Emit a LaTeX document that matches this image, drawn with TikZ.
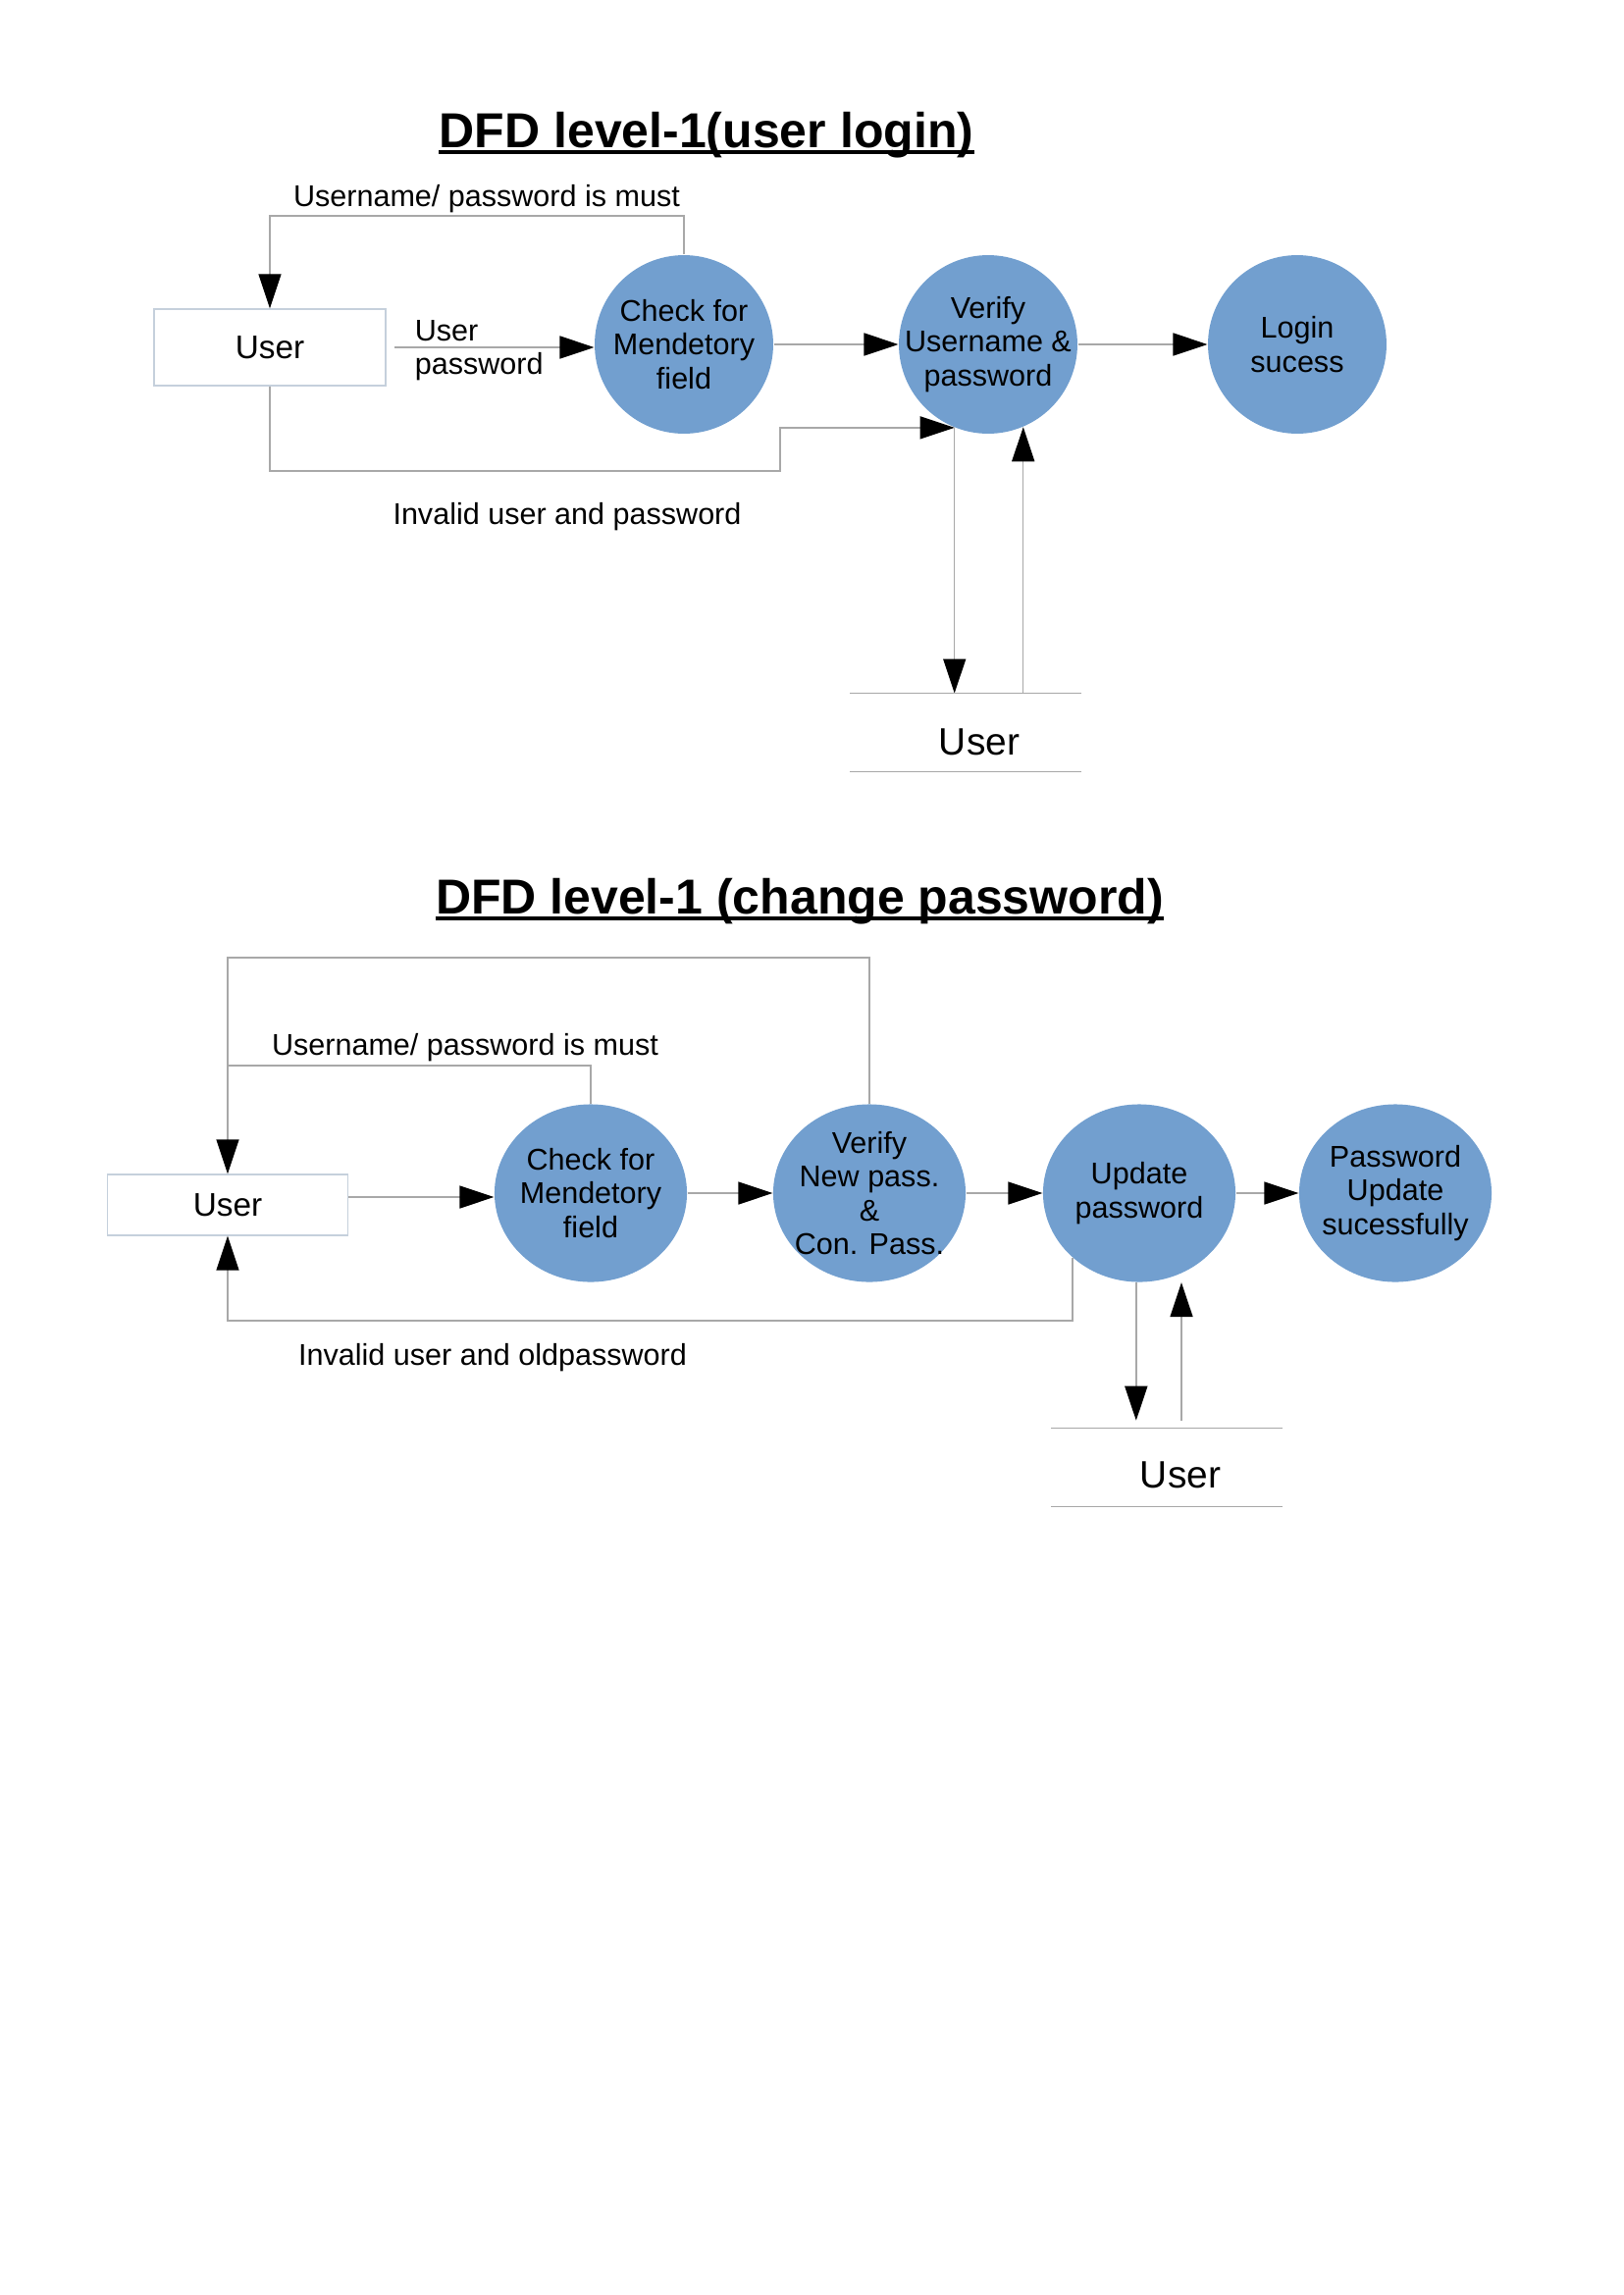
\documentclass[tikz,border=0pt]{standalone}
\usepackage{fontspec}
\setmainfont{Liberation Sans}
\usepackage{xcolor}
\usepackage{tikz}
\usetikzlibrary{positioning,arrows.meta,shapes.geometric}

\definecolor{procblue}{HTML}{729FCF}
\definecolor{boxedge}{HTML}{C5D0DC}
\definecolor{flowgray}{HTML}{A8A8A8}

\begin{document}
\begin{tikzpicture}[x=0.36pt, y=-0.36pt, font=\fontsize{11}{12.3}\selectfont,
	proc/.style={ellipse, fill=procblue, inner sep=0pt, minimum width=65.5pt, minimum height=65.5pt, label={[align=center]center:#1}},
	oval/.style={minimum width=70.6pt, minimum height=65.2pt},
	ent/.style={draw=boxedge, line width=0.5pt, font=\fontsize{12}{14}\selectfont},
	store/.style={minimum width=84.6pt, minimum height=28.4pt},
	line/.style={draw=flowgray, line width=0.5pt},
	flow/.style={line, -{Triangle[length=12.6pt, width=8.3pt, color=black]}},
	heading/.style={font=\fontsize{18}{22}\selectfont\bfseries, anchor=base, inner sep=0pt},
	uline/.style={line width=1.2pt}]
		\useasboundingbox (0,0) rectangle (1654,2339);

		% user login
		\node[heading] (ttl1) at (720,150) {DFD level-1(user login)};
		\draw[uline] ([yshift=-1.8pt]ttl1.base west) -- ([yshift=-1.8pt]ttl1.base east);
		\node[ent, minimum width=85pt, minimum height=28.1pt] (usr1) at (275,354) {User};
		\node[proc={Check for\\Mendetory\\field}] (chk1) at (697,351) {};
		\node[proc={Verify\\Username \&\\password}] (ver1) at (1007,351) {};
		\node[proc={Login\\sucess}] (ok1) at (1322,351) {};
		\node[store] (db1) at (984,746.5) {};
		\node[font=\fontsize{14}{17}\selectfont] (dbtxt1) at (998,756) {User};
		\node[anchor=west, align=left] (lbl1) at (413,357) {User\\password};
		\node (lbl2) at (496,203) {Username/ password is must};
		\node (lbl3) at (578,527) {Invalid user and password};

		\coordinate (loop1) at (usr1.north |- 0,220);
		\coordinate (back1) at (795,480);
		\draw[flow] ([xshift=3pt]usr1.east) -- (usr1.east -| chk1.west);
		\draw[flow] (chk1) -- (ver1);
		\draw[flow] (ver1) -- (ok1);
		\draw[flow] (chk1.north) |- (loop1) -- (usr1.north);
		\draw[flow] (usr1.south) |- (back1) |- (ver1.-112);
		\draw[flow] (ver1.-112) -- (ver1.-112 |- db1.north);
		\draw[flow] (db1.north -| ver1.-67) -- (ver1.-67);
		\draw[line] (db1.north west) -- (db1.north east) (db1.south west) -- (db1.south east);

		% change password
		\node[heading] (ttl2) at (815,931) {DFD level-1 (change password)};
		\draw[uline] ([yshift=-1.8pt]ttl2.base west) -- ([yshift=-1.8pt]ttl2.base east);
		\node[ent, minimum width=88.2pt, minimum height=22.3pt] (usr2) at (232,1228) {User};
		\node[proc={Check for\\Mendetory\\field}, oval] (chk2) at (602,1216) {};
		\node[proc={Verify\\New pass.\\\&\\Con. Pass.}, oval] (ver2) at (886,1216) {};
		\node[proc={Update\\password}, oval] (upd2) at (1161,1216) {};
		\node[proc={Password\\Update\\sucessfully}, oval] (done2) at (1422,1216) {};
		\node[store] (db2) at (1189,1495.5) {};
		\node[font=\fontsize{14}{17}\selectfont] (dbtxt2) at (1203,1503) {User};
		\node (lbl4) at (474,1068) {Username/ password is must};
		\node (lbl5) at (502,1384) {Invalid user and oldpassword};

		\coordinate (loop2) at (usr2.north |- 0,1086);
		\coordinate (loop3) at (usr2.north |- 0,976);
		\coordinate (back2) at (usr2.south |- 0,1346);
		\draw[flow] (usr2.east |- 0,1220) -- (chk2.west |- 0,1220);
		\draw[flow] (chk2) -- (ver2);
		\draw[flow] (ver2) -- (upd2);
		\draw[flow] (upd2) -- (done2);
		\draw[flow] (chk2.north) |- (loop2) -- (usr2.north);
		\draw[line] (ver2.north) |- (loop3) -- (loop2);
		\draw[flow] (upd2.224) |- (back2) -- (usr2.south);
		\draw[flow, shorten >=2.8pt] (upd2.268) -- (upd2.268 |- db2.north);
		\draw[flow, shorten <=2.8pt] (db2.north -| 1204,0) -- (upd2.south -| 1204,0);
		\draw[line] (db2.north west) -- (db2.north east) (db2.south west) -- (db2.south east);
\end{tikzpicture}
\end{document}
